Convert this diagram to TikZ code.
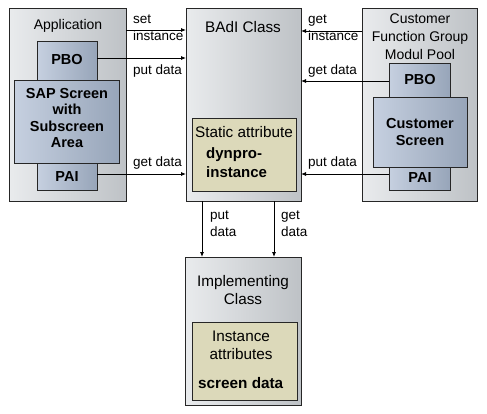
\documentclass[tikz,border=0pt]{standalone}
\usepackage{fontspec}
\setmainfont{Liberation Sans}
\usetikzlibrary{arrows.meta}
\definecolor{outerL}{HTML}{E9EBED}
\definecolor{outerR}{HTML}{BEC2C6}
\definecolor{blueL}{HTML}{C6D0E0}
\definecolor{blueR}{HTML}{97A5B9}
\definecolor{attr}{HTML}{DCD9BA}
\begin{document}
\begin{tikzpicture}[x=1pt,y=-1pt,
 box/.style={draw=black!85, line width=0.8pt, anchor=north west, inner sep=0pt, outer sep=0pt},
 outer/.style={box, left color=outerL, right color=outerR},
 bluebox/.style={box, left color=blueL, right color=blueR},
 attrbox/.style={box, fill=attr},
 lbl/.style={font=\fontsize{14}{18}\selectfont, inner sep=0pt, align=center},
 biglbl/.style={font=\fontsize{15.3}{18}\selectfont, inner sep=0pt, align=center},
 blbl/.style={font=\bfseries\fontsize{14.5}{16.5}\selectfont, inner sep=0pt, align=center},
 albl/.style={font=\fontsize{13.5}{17}\selectfont, inner sep=0pt, align=left, anchor=west},
 arr/.style={-{Latex[length=5pt,width=4pt]}, line width=0.8pt},
]
\fill[white] (0,0) rectangle (487,413);
\useasboundingbox (0,0) rectangle (487,413);

% Application
\node[outer, minimum width=117, minimum height=193] (app) at (9,8) {};
\node[bluebox, minimum width=60, minimum height=39] (apbo) at (37,41) {};
\node[bluebox, minimum width=60, minimum height=27] (apai) at (37,163) {};
\node[bluebox, minimum width=105, minimum height=83] (ascr) at (14,80) {};
\node[lbl] (tapp) at (68,26) {Application};
\node[blbl] (tapbo) at (67,60) {PBO};
\node[blbl] (tascr) at (67,118) {SAP Screen\\with\\Subscreen\\Area};
\node[blbl] (tapai) at (67,177) {PAI};

% BAdI class
\node[outer, minimum width=115, minimum height=193] (badi) at (186,8) {};
\node[attrbox, minimum width=104, minimum height=73] (stat) at (192,118) {};
\node[biglbl] (tbadi) at (243,27) {BAdI Class};
\node[biglbl] (tstat) at (244,132) {Static attribute};
\node[blbl, font=\bfseries\fontsize{15}{19}\selectfont, align=left, anchor=west] (tdyn) at (206,163) {dynpro-\\instance};

% Customer
\node[outer, minimum width=115, minimum height=193] (cust) at (362,8) {};
\node[bluebox, minimum width=61, minimum height=34] (cpbo) at (389,63) {};
\node[bluebox, minimum width=61, minimum height=23] (cpai) at (389,167) {};
\node[bluebox, minimum width=94, minimum height=70] (cscr) at (373,97) {};
\node[lbl] (tcust) at (420,37) {Customer\\Function Group\\Modul Pool};
\node[blbl] (tcpbo) at (420,80) {PBO};
\node[blbl] (tcscr) at (420,132) {Customer\\Screen};
\node[blbl] (tcpai) at (420,178) {PAI};

% Implementing class
\node[outer, minimum width=116, minimum height=148] (impl) at (185,257) {};
\node[attrbox, minimum width=105, minimum height=78] (inst) at (192,322) {};
\node[biglbl] (timpl) at (243,290) {Implementing\\Class};
\node[biglbl] (tinst) at (241,345) {Instance\\attributes};
\node[blbl, font=\bfseries\fontsize{15.3}{18}\selectfont, anchor=west] (tscr) at (198,383) {screen data};

% arrows left
\draw[arr] (app.east |- 0,30) -- (badi.west |- 0,30);
\draw[arr] (apbo.east |- 0,58) -- (badi.west |- 0,58);
\draw[arr] (apai.east |- 0,174) -- (badi.west |- 0,174);
\node[albl] (lset) at (133,28) {set\\instance};
\node[albl] (lput1) at (133,71) {put data};
\node[albl] (lget1) at (133,163) {get data};

% arrows right
\draw[arr] (cust.west |- 0,31) -- (badi.east |- 0,31);
\draw[arr] (cpbo.west |- 0,81) -- (badi.east |- 0,81);
\draw[arr] (cpai.west |- 0,174) -- (badi.east |- 0,174);
\node[albl] (lgeti) at (308,28) {get\\instance};
\node[albl] (lget2) at (308,71) {get data};
\node[albl] (lput2) at (308,163) {put data};

% arrows down
\draw[arr] (badi.south -| 202,0) -- (impl.north -| 202,0);
\draw[arr] (badi.south -| 274,0) -- (impl.north -| 274,0);
\node[albl] (lput3) at (210,224) {put\\data};
\node[albl] (lget3) at (281,224) {get\\data};
\end{tikzpicture}
\end{document}
